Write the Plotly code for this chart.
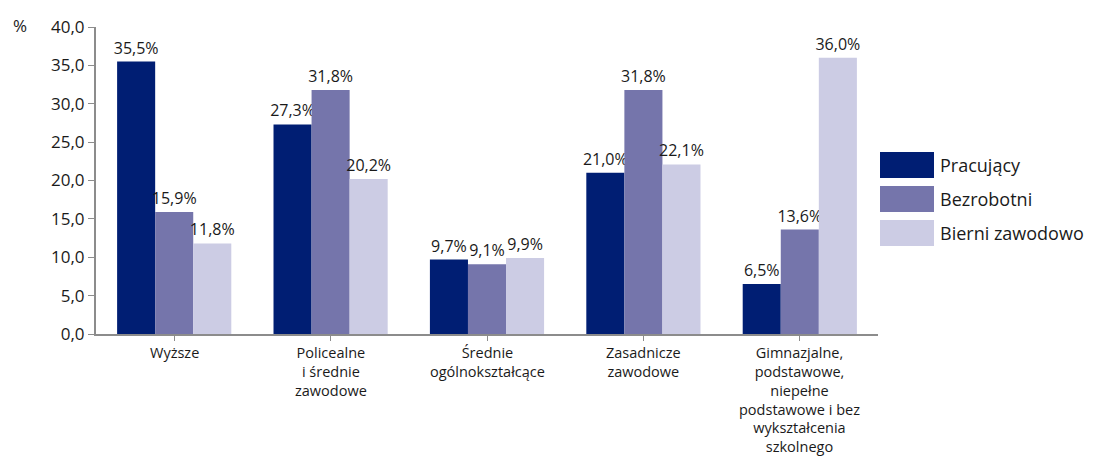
import plotly.graph_objects as go

categories = ["Wyższe", "Policealne\ni średnie\nzawodowe", "Średnie\nogólnokształcące",
              "Zasadnicze\nzawodowe",
              "Gimnazjalne,\npodstawowe,\nniepełne\npodstawowe i bez\nwykształcenia\nszkolnego"]
series_names = ["Pracujący", "Bezrobotni", "Bierni zawodowo"]
pracujacy = [35.5, 27.3, 9.7, 21.0, 6.5]
bezrobotni = [15.9, 31.8, 9.1, 31.8, 13.6]
bierni = [11.8, 20.2, 9.9, 22.1, 36.0]
colors = ["#001E73", "#7575AB", "#CCCCE4"]
y_ticks = [0, 5, 10, 15, 20, 25, 30, 35, 40]

FONT = "Open Sans"
TXT = "#1a1a1a"
x_idx = list(range(len(categories)))

OFF = 8  # page body margin
W, H = 1105, 457
# desired plot area in screen pixels
SX0, SX1, SY0, SY1 = 96, 878, 27, 334
L = SX0 - OFF
R = W - (SX1 - OFF)
T = SY0 - OFF
B = H - (SY1 - OFF)
PW = SX1 - SX0
PH = SY1 - SY0

def px(x):
    return (x - SX0) / PW

def py(y):
    return (SY1 - y) / PH

fig = go.Figure()
for name, vals, col in zip(series_names, [pracujacy, bezrobotni, bierni], colors):
    fig.add_trace(go.Bar(
        x=x_idx, y=vals, name=name, marker=dict(color=col, line=dict(width=0)),
        texttemplate="%{y:.1f}%", textposition="outside", cliponaxis=False,
        constraintext="none",
        textfont=dict(size=16, color=TXT, family=FONT), showlegend=False,
    ))

# category labels
for i, cat in enumerate(categories):
    fig.add_annotation(x=i, y=0, xref="x", yref="y", text=cat.replace("\n", "<br>"),
                       showarrow=False, yanchor="top", yshift=-7, align="center",
                       font=dict(size=14.5, color=TXT, family=FONT))

# custom legend
leg_top = [152, 186, 220]
for name, col, t in zip(series_names, colors, leg_top):
    fig.add_shape(type="rect", xref="paper", yref="paper",
                  x0=px(880), x1=px(934), y0=py(t + 26), y1=py(t),
                  fillcolor=col, line=dict(width=0))
    fig.add_annotation(xref="paper", yref="paper", x=px(938), y=py(t + 13),
                       text=name, showarrow=False, xanchor="left", yanchor="middle",
                       font=dict(size=18, color=TXT, family=FONT))

fig.add_annotation(xref="paper", yref="paper", x=px(20), y=py(25),
                   text="%", showarrow=False, xanchor="center", yanchor="middle",
                   font=dict(size=17, color=TXT, family=FONT))

fig.update_layout(
    width=W, height=H, barmode="group", bargap=0.27, bargroupgap=0,
    margin=dict(l=L, r=R, t=T, b=B, autoexpand=False),
    plot_bgcolor="white", paper_bgcolor="white",
    separators=", ",
    font=dict(family=FONT, size=17, color=TXT),
    xaxis=dict(tickvals=x_idx, ticktext=[""] * len(x_idx), range=[-0.5, len(x_idx) - 0.5],
               showline=True, linecolor="#8c8c8c", linewidth=2, ticks="outside",
               tickson="boundaries", tickcolor="#8c8c8c", ticklen=5, showgrid=False,
               automargin=False),
    yaxis=dict(range=[0, 40], tickvals=y_ticks, tickformat=".1f", showline=True,
               linecolor="#8c8c8c", linewidth=2, ticks="outside", tickcolor="#8c8c8c",
               ticklen=6, showgrid=False, zeroline=False, automargin=False,
               tickfont=dict(size=17, family=FONT, color=TXT)),
)
fig.write_html("out.html")
